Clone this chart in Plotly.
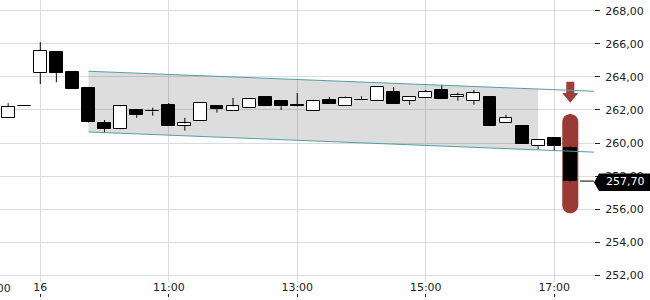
import plotly.graph_objects as go

# ---- data (15-minute candles; index 0 = 16th 09:00) ----
idx = list(range(-2, 34))
opens = [261.50, 262.23, 264.22, 265.50, 264.30, 263.33, 261.19, 260.87, 262.00, 261.93,
         262.28, 261.05, 261.35, 262.24, 261.96, 262.10, 262.79, 262.53, 262.27, 261.96,
         262.59, 262.22, 262.60, 262.53, 263.09, 262.53, 262.71, 263.21, 262.77, 262.53,
         262.79, 261.19, 261.03, 259.80, 260.28, 259.70]
highs = [262.41, 262.23, 266.10, 265.50, 264.30, 263.33, 261.39, 262.25, 262.00, 262.14,
         262.42, 261.52, 262.41, 262.24, 262.73, 262.69, 262.79, 262.53, 263.03, 262.61,
         262.79, 262.81, 262.83, 263.39, 263.39, 262.79, 263.21, 263.52, 263.05, 263.21,
         262.79, 261.70, 261.03, 260.16, 260.28, 259.80]
lows = [261.50, 262.21, 263.56, 263.68, 263.29, 261.25, 260.62, 260.84, 261.53, 261.66,
        261.05, 260.75, 261.35, 261.84, 261.96, 262.10, 262.26, 262.00, 262.22, 261.96,
        262.38, 262.22, 262.58, 262.53, 262.38, 262.32, 262.71, 262.69, 262.56, 262.32,
        261.05, 261.19, 259.96, 259.64, 259.53, 257.66]
closes = [262.20, 262.21, 265.59, 264.22, 263.29, 261.29, 260.87, 262.22, 261.68, 261.91,
          261.05, 261.19, 262.41, 262.08, 262.22, 262.69, 262.26, 262.22, 262.25, 262.53,
          262.38, 262.71, 262.58, 263.39, 262.38, 262.79, 263.07, 262.69, 262.89, 263.00,
          261.05, 261.50, 259.96, 260.16, 259.80, 257.70]

tick_idx = [-3, 0, 8, 16, 24, 32]
tick_text = ["17:00", "16", "11:00", "13:00", "15:00", "17:00"]

y_ticks = [252, 254, 256, 258, 260, 262, 264, 266, 268]

# trend channel (index, upper, lower)
chan_x = [3, 31, 34.48]
chan_upper = [264.34, 263.26, 263.13]
chan_lower = [260.67, 259.59, 259.45]

# signal marker (sell signal on last candle)
signal_idx = 33
signal_top = 261.75
signal_bottom = 255.75
arrow_top = 263.71
arrow_head = 263.02
arrow_tip = 262.44

X_RANGE = [-2.509, 34.477]
Y_RANGE = [251.60, 268.647]
PLOT_W = 594

RED = "#9b3a35"
TEAL = "#519fa5"
FONT = "DejaVu Sans"
TXT = "#222222"

fig = go.Figure()

# wicks (upper and lower parts, so they do not cross hollow bodies)
wx, wy = [], []
for i, o, h, l, c in zip(idx, opens, highs, lows, closes):
    top, bot = max(o, c), min(o, c)
    if h > top:
        wx += [i, i, None]
        wy += [top, h, None]
    if l < bot:
        wx += [i, i, None]
        wy += [l, bot, None]
fig.add_trace(go.Scatter(x=wx, y=wy, mode="lines", line=dict(color="black", width=1),
                         hoverinfo="skip", showlegend=False))

# bodies
base = [min(o, c) for o, c in zip(opens, closes)]
height = [abs(c - o) for o, c in zip(opens, closes)]
fills = ["white" if c > o else "black" for o, c in zip(opens, closes)]
fig.add_trace(go.Bar(x=idx, y=height, base=base, width=0.8,
                     marker=dict(color=fills, line=dict(color="black", width=1)),
                     hoverinfo="skip", showlegend=False))

# channel lines
fig.add_trace(go.Scatter(x=[chan_x[0], chan_x[2]], y=[chan_upper[0], chan_upper[2]],
                         mode="lines", line=dict(color=TEAL, width=1),
                         hoverinfo="skip", showlegend=False))
fig.add_trace(go.Scatter(x=[chan_x[0], chan_x[2]], y=[chan_lower[0], chan_lower[2]],
                         mode="lines", line=dict(color=TEAL, width=1),
                         hoverinfo="skip", showlegend=False))

# dummy trace for the secondary tick axis
fig.add_trace(go.Scatter(x=tick_idx, y=[None] * len(tick_idx), xaxis="x2",
                         mode="markers", hoverinfo="skip", showlegend=False))

shapes = []
# channel fill
shapes.append(dict(
    type="path", xref="x", yref="y", layer="between",
    path=f"M{chan_x[0]},{chan_upper[0]} L{chan_x[1]},{chan_upper[1]} "
         f"L{chan_x[1]},{chan_lower[1]} L{chan_x[0]},{chan_lower[0]} Z",
    fillcolor="rgba(0,0,0,0.135)", line=dict(width=0)))

# pill (rounded bar)
hw = 0.5
ry = 0.484
k = 0.5523
xc = signal_idx
yt, yb = signal_top, signal_bottom
pill = (f"M{xc-hw},{yt-ry} "
        f"C{xc-hw},{yt-ry+k*ry} {xc-k*hw},{yt} {xc},{yt} "
        f"C{xc+k*hw},{yt} {xc+hw},{yt-ry+k*ry} {xc+hw},{yt-ry} "
        f"L{xc+hw},{yb+ry} "
        f"C{xc+hw},{yb+ry-k*ry} {xc+k*hw},{yb} {xc},{yb} "
        f"C{xc-k*hw},{yb} {xc-hw},{yb+ry-k*ry} {xc-hw},{yb+ry} Z")
shapes.append(dict(type="path", xref="x", yref="y", layer="between", path=pill,
                   fillcolor=RED, line=dict(width=0)))

# arrow
sw = 0.25
arrow = (f"M{xc-sw},{arrow_top} L{xc+sw},{arrow_top} L{xc+sw},{arrow_head} "
         f"L{xc+hw},{arrow_head} L{xc},{arrow_tip} L{xc-hw},{arrow_head} "
         f"L{xc-sw},{arrow_head} Z")
shapes.append(dict(type="path", xref="x", yref="y", layer="between", path=arrow,
                   fillcolor="#a0403a", line=dict(width=0)))

last = closes[-1]
# connector line from last candle to the price tag
shapes.append(dict(type="line", xref="x", yref="y", x0=idx[-1] + 0.6, x1=X_RANGE[1],
                   y0=last, y1=last, line=dict(color="black", width=1), layer="above"))
# price tag
shapes.append(dict(type="path", xref="paper", yref="y", xsizemode="pixel",
                   ysizemode="pixel", xanchor=1, yanchor=last,
                   path="M0,-1.5 L5,7.5 L56,7.5 L56,-10 L5,-10 Z",
                   fillcolor="black", line=dict(width=0), layer="above"))

# tick label for the tick just left of the visible range (clipped at the edge)
off_frac = (tick_idx[0] - X_RANGE[0]) / (X_RANGE[1] - X_RANGE[0]) + 3 / PLOT_W

fig.update_layout(
    width=650, height=300,
    margin=dict(l=0, r=56, t=0, b=0),
    paper_bgcolor="white", plot_bgcolor="white",
    separators=",.",
    font=dict(family=FONT, size=11, color=TXT),
    showlegend=False,
    bargap=0,
    shapes=shapes,
    xaxis=dict(range=X_RANGE, tickmode="array", tickvals=tick_idx, ticktext=tick_text,
               showgrid=True, gridcolor="#dcdcdc", gridwidth=1, zeroline=False,
               showline=False, ticks="", tickfont=dict(size=11, color=TXT),
               ticklabelstandoff=-3, anchor="y", fixedrange=True),
    xaxis2=dict(range=X_RANGE, overlaying="x", anchor="free", position=0.01,
                tickmode="array", tickvals=tick_idx, showticklabels=False,
                ticks="inside", ticklen=3, tickcolor="#222", tickwidth=1,
                showgrid=False, zeroline=False, showline=False),
    yaxis=dict(range=Y_RANGE, domain=[0.06, 1], side="right", tickmode="array",
               tickvals=y_ticks, tickformat=".2f", showgrid=True, gridcolor="#dcdcdc",
               gridwidth=1, zeroline=False, showline=False, ticks="outside", ticklen=5,
               tickcolor="#222", tickwidth=1, tickfont=dict(size=11, color=TXT),
               ticklabelstandoff=3, fixedrange=True),
    annotations=[
        dict(xref="paper", yref="y", x=1 + 31 / PLOT_W, y=last,
             text=f"{last:.2f}".replace(".", ","), showarrow=False,
             font=dict(family=FONT, size=11, color="white"),
             xanchor="center", yanchor="middle"),
        dict(xref="paper", yref="paper", x=off_frac, y=0.04,
             text=tick_text[0], showarrow=False,
             font=dict(family=FONT, size=11, color=TXT),
             xanchor="center", yanchor="middle"),
    ],
)

fig.write_html("out.html")
